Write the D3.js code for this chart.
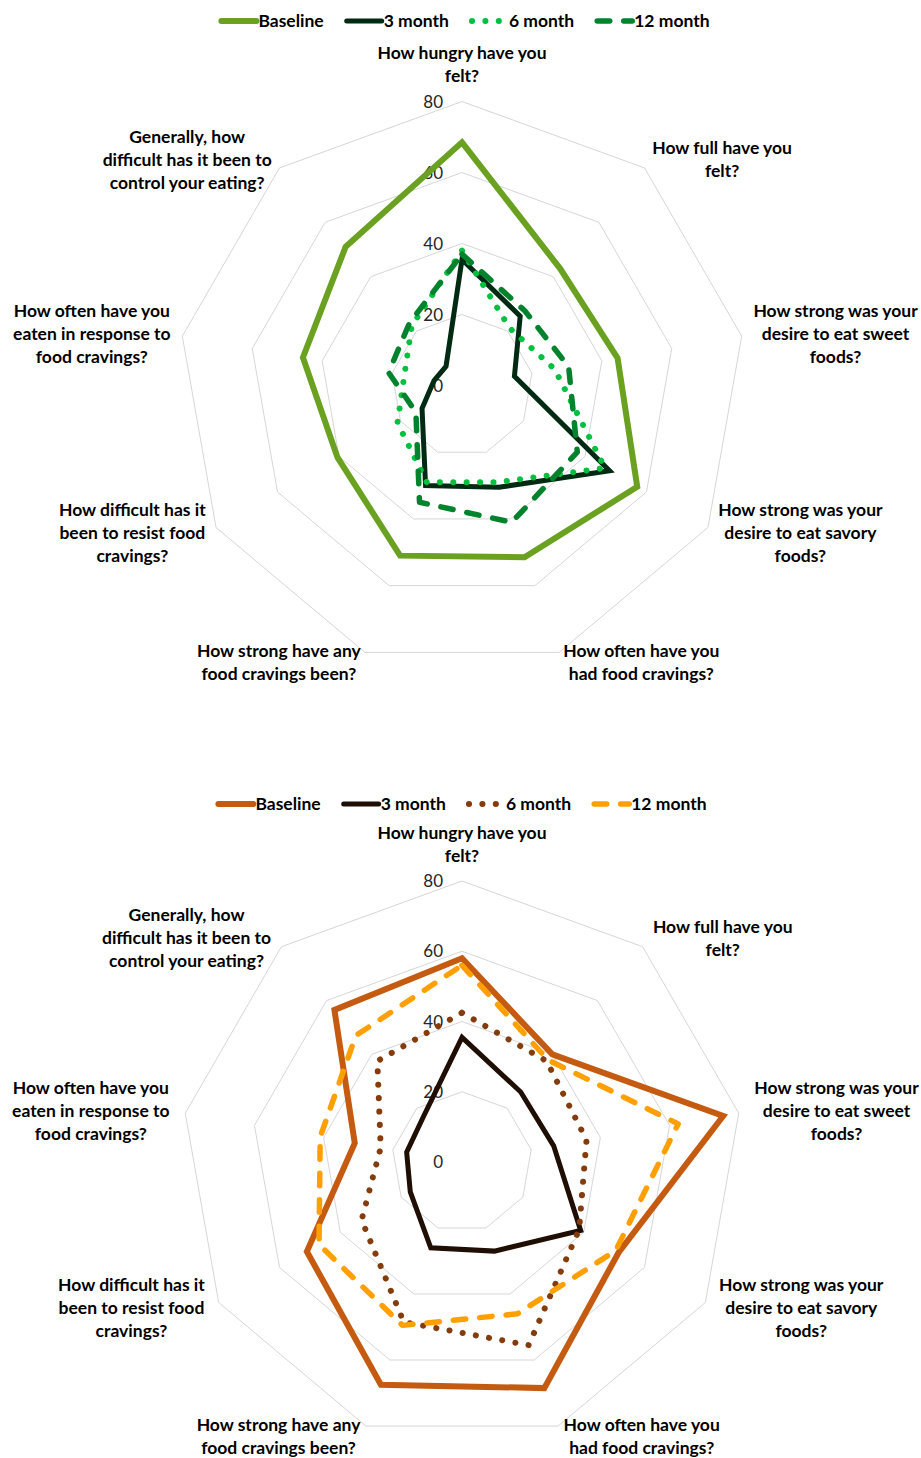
<!DOCTYPE html>
<html>
<head>
<meta charset="utf-8">
<script src="https://cdn.jsdelivr.net/npm/d3@7"></script>
<style>
  body { margin: 0; background: #fff; }
  svg { display: block; }
  text { font-family: Lato, "Open Sans", sans-serif; }
</style>
</head>
<body>
<svg id="chart" width="921" height="1458"></svg>
<script>
var axisLabels = [
  ["How hungry have you", "felt?"],
  ["How full have you", "felt?"],
  ["How strong was your", "desire to eat sweet", "foods?"],
  ["How strong was your", "desire to eat savory", "foods?"],
  ["How often have you", "had food cravings?"],
  ["How strong have any", "food cravings been?"],
  ["How difficult has it", "been to resist food", "cravings?"],
  ["How often have you", "eaten in response to", "food cravings?"],
  ["Generally, how", "difficult has it been to", "control your eating?"]
];
var seriesNames = ["Baseline", "3 month", "6 month", "12 month"];
var tickValues = [0, 20, 40, 60, 80];

// top chart, green
var greenBaseline = [68.5, 43, 44.5, 57, 51.5, 51, 40.5, 45.5, 51];
var green3m = [35.5, 25.5, 15, 48, 30.5, 30, 13, 8, 7];
var green6m = [38, 21, 26.5, 46.5, 29, 29, 21, 16.5, 22];
var green12m = [37, 27.5, 30.5, 37.5, 41, 35, 15, 21, 23];
var greenColors = ["#6aa121", "#012a12", "#00c040", "#00832c"];

// bottom chart, orange
var orangeBaseline = [58, 40, 75.5, 51.5, 68.5, 67.5, 51, 31, 56.5];
var orange3m = [35.5, 26, 26.5, 39, 27, 26, 17, 16, 17];
var orange6m = [42.5, 37.5, 36, 38.5, 55.5, 48.5, 33, 23.5, 37.5];
var orange12m = [56, 38, 62.5, 50.5, 46, 49.5, 47, 41, 47];
var orangeColors = ["#c55a11", "#1f0e04", "#843c0c", "#ffa000"];

var charts = [
  { cy: 385.5, R: 284, labelPad: 12, legendY: 21, legendX: 464, colors: greenColors, data: [greenBaseline, green3m, green6m, green12m] },
  { cy: 1162, R: 281, labelPad: 16, legendY: 804, legendX: 461, colors: orangeColors, data: [orangeBaseline, orange3m, orange6m, orange12m] }
];

// line look per series: solid, solid, dotted, dashed
var lineStyles = [
  { width: 6, dash: null, cap: "butt" },
  { width: 5, dash: null, cap: "butt" },
  { width: 6, dash: "0.1 13.3", cap: "round" },
  { width: 5.5, dash: "12.5 14", cap: "round" }
];

var svg = d3.select("#chart");
var cx = 462, n = axisLabels.length;
var labelSize = 17.5, lineH = 23;

var angle = d3.scaleLinear().domain([0, n]).range([0, 2 * Math.PI]);

function drawChart(c) {
  var r = d3.scaleLinear().domain([0, 80]).range([0, c.R]);
  var radar = d3.lineRadial()
    .angle(function(d, i) { return angle(i); })
    .radius(function(d) { return r(d); })
    .curve(d3.curveLinearClosed);

  var g = svg.append("g").attr("transform", "translate(" + cx + "," + c.cy + ")");

  // grid rings
  g.selectAll(".ring")
    .data(tickValues.filter(function(v) { return v > 0; }))
    .enter().append("path")
    .attr("d", function(v) { return radar(d3.range(n).map(function() { return v; })); })
    .attr("fill", "none")
    .attr("stroke", "#d6d6d6")
    .attr("stroke-width", 1);

  // tick labels
  g.selectAll(".tick")
    .data(tickValues)
    .enter().append("text")
    .attr("x", -19)
    .attr("y", function(v) { return -r(v) + 6; })
    .attr("text-anchor", "end")
    .attr("font-size", 17)
    .attr("fill", "#262626")
    .text(function(v) { return v; });

  // series
  c.data.forEach(function(vals, s) {
    var st = lineStyles[s];
    g.append("path")
      .attr("d", radar(vals))
      .attr("fill", "none")
      .attr("stroke", c.colors[s])
      .attr("stroke-width", st.width)
      .attr("stroke-linecap", st.cap)
      .attr("stroke-linejoin", st.dash ? "round" : "miter")
      .attr("stroke-dasharray", st.dash);
  });

  // category labels
  axisLabels.forEach(function(lines, i) {
    var a = angle(i);
    var dx = Math.sin(a), dy = -Math.cos(a);
    var vx = dx * c.R, vy = dy * c.R;
    var t = g.append("text")
      .attr("text-anchor", "middle")
      .attr("font-size", labelSize)
      .attr("font-weight", "bold")
      .attr("fill", "#000");
    var spans = lines.map(function(l) { return t.append("tspan").text(l); });
    var w = d3.max(spans, function(sp) { return sp.node().getComputedTextLength(); });
    var h = lines.length * lineH;
    var mx, my;
    if (Math.abs(dx) < 0.01) {
      mx = 0;
      my = vy - 14 - h / 2 + (dy > 0 ? 28 + h : 0);
    } else {
      mx = vx + c.labelPad * dx + (dx > 0 ? w / 2 : -w / 2);
      my = vy + 11 * dy;
    }
    spans.forEach(function(sp, k) {
      sp.attr("x", mx).attr("y", my - h / 2 + lineH * (k + 0.5) + 6);
    });
  });

  drawLegend(c);
}

function drawLegend(c) {
  var lg = svg.append("g");
  var x = 0;
  seriesNames.forEach(function(name, s) {
    var it = lg.append("g");
    var st = lineStyles[s];
    it.append("line")
      .attr("x1", 3).attr("x2", 38)
      .attr("y1", 0).attr("y2", 0)
      .attr("stroke", c.colors[s])
      .attr("stroke-width", st.width)
      .attr("stroke-linecap", "round")
      .attr("stroke-dasharray", st.dash);
    var tx = it.append("text")
      .attr("x", 40)
      .attr("y", 6)
      .attr("font-size", labelSize)
      .attr("font-weight", "bold")
      .attr("fill", "#000")
      .text(name);
    var w = 40 + tx.node().getComputedTextLength();
    it.attr("transform", "translate(" + x + "," + c.legendY + ")");
    x += w + 20;
  });
  var total = x - 20;
  lg.attr("transform", "translate(" + (c.legendX - total / 2) + ",0)");
}

charts.forEach(drawChart);
</script>
</body>
</html>
